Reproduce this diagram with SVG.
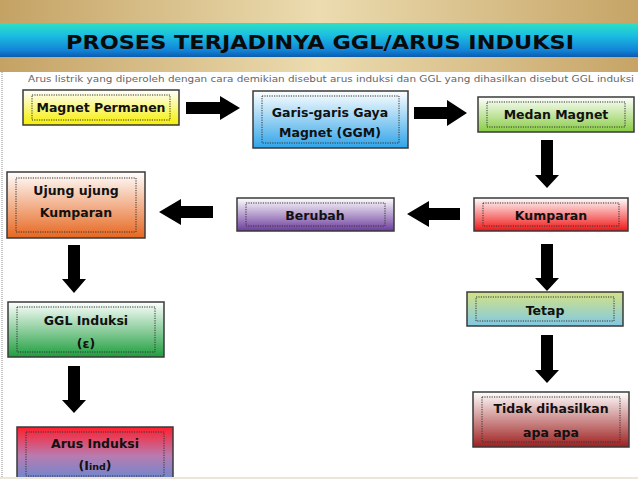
<svg xmlns="http://www.w3.org/2000/svg" width="638" height="479" viewBox="0 0 638 479">
<style>
.box{stroke:#3a3a3a;stroke-width:1.5}
.inner{fill:none;stroke:#333;stroke-width:1;stroke-dasharray:1.2,1.2}
.lbl{font-family:"Comic Sans MS","DejaVu Sans",sans-serif;font-weight:bold;font-size:12.5px;fill:#111;text-anchor:middle}
.arr{fill:#000}
.title{font-family:"DejaVu Sans","Liberation Sans",sans-serif;font-weight:bold;font-size:19px;fill:#0a0a0a;text-anchor:middle}
</style>
<defs>
<linearGradient id="gold" x1="0" y1="0" x2="1" y2="0">
<stop offset="0" stop-color="#c4a264"/><stop offset="0.5" stop-color="#ecdcb0"/><stop offset="1" stop-color="#c6a466"/>
</linearGradient>
<linearGradient id="band" x1="0" y1="0" x2="0" y2="1">
<stop offset="0" stop-color="#2ee0c4"/><stop offset="0.35" stop-color="#1cc0e0"/><stop offset="0.8" stop-color="#1284d8"/><stop offset="1" stop-color="#0c5cae"/>
</linearGradient>
<linearGradient id="gY" x1="0" y1="0" x2="0" y2="1"><stop offset="0" stop-color="#ffffff"/><stop offset="1" stop-color="#f6ee00"/></linearGradient>
<linearGradient id="gB" x1="0" y1="0" x2="0" y2="1"><stop offset="0" stop-color="#ffffff"/><stop offset="1" stop-color="#30a4e8"/></linearGradient>
<linearGradient id="gG" x1="0" y1="0" x2="0" y2="1"><stop offset="0" stop-color="#ffffff"/><stop offset="1" stop-color="#88cc44"/></linearGradient>
<linearGradient id="gR" x1="0" y1="0" x2="0" y2="1"><stop offset="0" stop-color="#ffffff"/><stop offset="1" stop-color="#f01414"/></linearGradient>
<linearGradient id="gP" x1="0" y1="0" x2="0" y2="1"><stop offset="0" stop-color="#ffffff"/><stop offset="1" stop-color="#6c3c9c"/></linearGradient>
<linearGradient id="gO" x1="0" y1="0" x2="0" y2="1"><stop offset="0" stop-color="#ffffff"/><stop offset="1" stop-color="#e6661e"/></linearGradient>
<linearGradient id="gDG" x1="0" y1="0" x2="0" y2="1"><stop offset="0" stop-color="#ffffff"/><stop offset="1" stop-color="#1e9e3e"/></linearGradient>
<linearGradient id="gRB" x1="0" y1="0" x2="0" y2="1"><stop offset="0" stop-color="#ff1e2e"/><stop offset="0.5" stop-color="#b87cb0"/><stop offset="1" stop-color="#5a8ad8"/></linearGradient>
<linearGradient id="gT" x1="0" y1="0" x2="0" y2="1"><stop offset="0" stop-color="#d4e284"/><stop offset="1" stop-color="#80c8e4"/></linearGradient>
<linearGradient id="gDR" x1="0" y1="0" x2="0" y2="1"><stop offset="0" stop-color="#ffffff"/><stop offset="1" stop-color="#9e2020"/></linearGradient>
</defs>
<rect x="0" y="0" width="638" height="479" fill="#ffffff"/>
<line x1="2" y1="72" x2="2" y2="479" stroke="#888" stroke-width="1" stroke-dasharray="1,1"/>
<g id="header">
<rect x="0" y="0" width="638" height="72" fill="url(#gold)"/>
<rect x="0" y="23" width="638" height="34" fill="url(#band)"/>
<text class="title" x="320" y="49" textLength="508" lengthAdjust="spacingAndGlyphs">PROSES TERJADINYA GGL/ARUS INDUKSI</text>
</g>
<text x="28" y="82" font-family="DejaVu Sans, sans-serif" font-size="9.5" fill="#666" textLength="606" lengthAdjust="spacingAndGlyphs">Arus listrik yang diperoleh dengan cara demikian disebut arus induksi dan GGL yang dihasilkan disebut GGL induksi</text>
<g id="connectors">
<polygon class="arr" points="186,102 220,102 220,96 240,108 220,120 220,114 186,114"/>
<polygon class="arr" points="414,107 447,107 447,100 467,113 447,126 447,119 414,119"/>
<polygon class="arr" points="541,140 553,140 553,175 559,175 547,188 535,175 541,175"/>
<polygon class="arr" points="460,208 429,208 429,201 407,214 429,227 429,220 460,220"/>
<polygon class="arr" points="213,206 181,206 181,199 159,212 181,225 181,218 213,218"/>
<polygon class="arr" points="68,245 80,245 80,279 86,279 74,293 62,279 68,279"/>
<polygon class="arr" points="68,366 80,366 80,400 86,400 74,413 62,400 68,400"/>
<polygon class="arr" points="541,244 553,244 553,278 559,278 547,291 535,278 541,278"/>
<polygon class="arr" points="541,335 553,335 553,370 559,370 547,383 535,370 541,370"/>
</g>
<g id="magnet-permanen">
<rect class="box" x="23" y="90" width="156" height="35" fill="url(#gY)"/>
<rect class="inner" x="32" y="95" width="138" height="25"/>
<text class="lbl" x="101" y="112">Magnet Permanen</text>
</g>
<g id="ggm">
<rect class="box" x="253" y="91" width="155" height="57" fill="url(#gB)"/>
<rect class="inner" x="262" y="96" width="137" height="47"/>
<text class="lbl" x="330" y="116.5">Garis-garis Gaya</text>
<text class="lbl" x="330" y="136.5">Magnet (GGM)</text>
</g>
<g id="medan-magnet">
<rect class="box" x="478" y="97" width="156" height="35" fill="url(#gG)"/>
<rect class="inner" x="487" y="102" width="138" height="25"/>
<text class="lbl" x="556" y="119">Medan Magnet</text>
</g>
<g id="kumparan">
<rect class="box" x="474" y="198" width="154" height="33" fill="url(#gR)"/>
<rect class="inner" x="483" y="203" width="136" height="23"/>
<text class="lbl" x="551" y="219.5">Kumparan</text>
</g>
<g id="berubah">
<rect class="box" x="237" y="198" width="157" height="33" fill="url(#gP)"/>
<rect class="inner" x="246" y="203" width="139" height="23"/>
<text class="lbl" x="315" y="219.5">Berubah</text>
</g>
<g id="ujung-kumparan">
<rect class="box" x="7" y="172" width="138" height="66" fill="url(#gO)"/>
<rect class="inner" x="16" y="178" width="120" height="54"/>
<text class="lbl" x="76" y="194.5">Ujung ujung</text>
<text class="lbl" x="76" y="216.5">Kumparan</text>
</g>
<g id="ggl-induksi">
<rect class="box" x="8" y="302" width="156" height="55" fill="url(#gDG)"/>
<rect class="inner" x="17" y="307" width="138" height="45"/>
<text class="lbl" x="86" y="324.5">GGL Induksi</text>
<text class="lbl" x="86" y="347.5">(ε)</text>
</g>
<g id="arus-induksi">
<rect class="box" x="17" y="427" width="156" height="58" fill="url(#gRB)"/>
<rect class="inner" x="26" y="432" width="138" height="44"/>
<text class="lbl" x="95" y="447.5">Arus Induksi</text>
<text class="lbl" x="95" y="470">(I<tspan font-size="9.5px">ind</tspan>)</text>
</g>
<g id="tetap">
<rect class="box" x="467" y="292" width="156" height="34" fill="url(#gT)"/>
<rect class="inner" x="476" y="297" width="138" height="24"/>
<text class="lbl" x="545" y="314.5">Tetap</text>
</g>
<g id="tidak-dihasilkan">
<rect class="box" x="473" y="392" width="156" height="55" fill="url(#gDR)"/>
<rect class="inner" x="482" y="397" width="138" height="45"/>
<text class="lbl" x="551" y="412.5">Tidak dihasilkan</text>
<text class="lbl" x="551" y="436.5">apa apa</text>
</g>
<rect x="0" y="477" width="638" height="2" fill="#ece6da"/>
</svg>
